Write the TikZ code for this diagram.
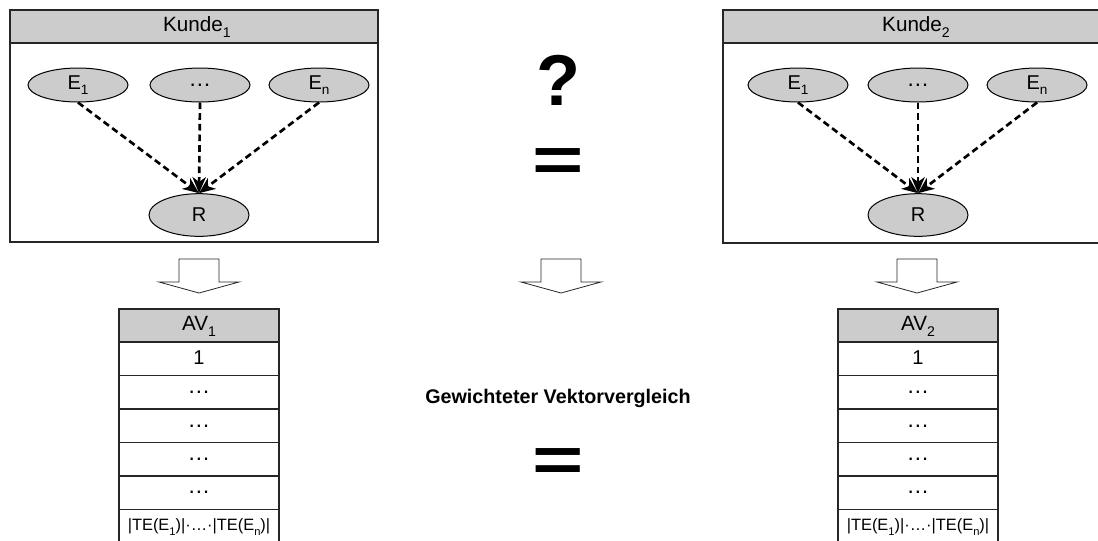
\documentclass[tikz,border=0pt]{standalone}
\usepackage{fontspec}
\setmainfont{Liberation Sans}
\usetikzlibrary{shapes.geometric,arrows.meta}
\newcommand\lsub[1]{\raisebox{-0.28em}{\scalebox{0.68}{#1}}}
\newcommand\avtab[3]{%
  \draw[hdr] (#2-80,309) rectangle (#2+80,342);
  \node[cellbig] (#1h) at (#2,326) {AV\lsub{#3}};
  \draw[frame] (#2-80,342) rectangle (#2+80,375.5);
  \node[cell] (#1r1) at (#2,358) {1};
  \draw[frame] (#2-80,375.5) rectangle (#2+80,409);
  \node[celldots] (#1r2) at (#2,392) {\ldots};
  \draw[frame] (#2-80,409) rectangle (#2+80,442.5);
  \node[celldots] (#1r3) at (#2,426) {\ldots};
  \draw[frame] (#2-80,442.5) rectangle (#2+80,476);
  \node[celldots] (#1r4) at (#2,459) {\ldots};
  \draw[frame] (#2-80,476) rectangle (#2+80,509.5);
  \node[celldots] (#1r5) at (#2,492) {\ldots};
  \draw[frame] (#2-80,509.5) rectangle (#2+80,548);
  \node[cellsmall] (#1r6) at (#2,527) {|TE(E\lsub{1})|·\ldots·|TE(E\lsub{n})|};
}
\newcommand\blockarrow[1]{%
  \draw[blk] (#1-20,259) -- (#1+20,259) -- (#1+20,282) -- (#1+40,282) -- (#1,293) -- (#1-40,282) -- (#1-20,282) -- cycle;
}
\begin{document}
\begin{tikzpicture}[x=0.75pt,y=-0.75pt,
  ell/.style={ellipse,draw=black,line width=0.75pt,fill=gray!40,minimum width=75pt,minimum height=25.5pt,inner sep=0pt,font=\fontsize{15}{17}\selectfont},
  elldots/.style={ell,font=\fontsize{17}{19}\selectfont},
  frame/.style={draw=black!85,line width=0.8pt},
  hdr/.style={draw=black!85,line width=0.8pt,fill=gray!40},
  dep/.style={line width=2pt,dash pattern=on 5pt off 3pt,-{Stealth[length=12pt,width=10pt,inset=3.5pt]}},
  blk/.style={draw=black!85,line width=0.6pt,fill=white},
  title/.style={font=\fontsize{15.5}{17}\selectfont},
  cellbig/.style={font=\fontsize{15.5}{17}\selectfont},
  cell/.style={font=\fontsize{15}{17}\selectfont},
  celldots/.style={font=\fontsize{17}{19}\selectfont},
  cellsmall/.style={font=\fontsize{12.3}{14}\selectfont,inner sep=0pt},
  ]
\useasboundingbox (0,0) rectangle (1098,540);
\clip (0,0) rectangle (1098,540);

% left customer
\draw[hdr] (10,10) rectangle (378,43);
\draw[frame] (10,43) rectangle (378,242);
\node[title] (k1) at (197,27) {Kunde\lsub{1}};
\node[ell] (a1) at (78,85) {E\lsub{1}};
\node[elldots] (b1) at (200,85) {\ldots};
\node[ell] (c1) at (319,85) {E\lsub{n}};
\node[ell,minimum height=32pt] (r1) at (199,215) {R};
\draw[dep] (a1.south) -- (r1.north);
\draw[dep] (b1.south) -- (r1.north);
\draw[dep] (c1.south) -- (r1.north);

% right customer
\draw[hdr] (723,10) rectangle (1102,43);
\draw[frame] (723,43) rectangle (1102,243);
\node[title] (k2) at (916,27) {Kunde\lsub{2}};
\node[ell] (a2) at (798,85) {E\lsub{1}};
\node[elldots] (b2) at (918,85) {\ldots};
\node[ell] (c2) at (1037,85) {E\lsub{n}};
\node[ell,minimum height=32pt] (r2) at (918,215) {R};
\draw[dep] (a2.south) -- (r2.north);
\draw[dep] (b2.south) -- (r2.north);
\draw[dep] (c2.south) -- (r2.north);

% middle
\node[font=\bfseries\fontsize{54}{54}\selectfont,inner sep=0pt] (q) at (558,80) {?};
\node[font=\bfseries\fontsize{66}{66}\selectfont,inner sep=0pt] (eq1) at (558,165) {\scalebox{1}[0.72]{=}};
\node[font=\bfseries\fontsize{14.8}{17}\selectfont] (gv) at (558,398) {Gewichteter Vektorvergleich};
\node[font=\bfseries\fontsize{66}{66}\selectfont,inner sep=0pt] (eq2) at (558,465) {\scalebox{1}[0.72]{=}};

% block arrows
\blockarrow{199}
\blockarrow{561}
\blockarrow{917}

% tables
\avtab{t1}{199}{1}
\avtab{t2}{918}{2}
\end{tikzpicture}
\end{document}
